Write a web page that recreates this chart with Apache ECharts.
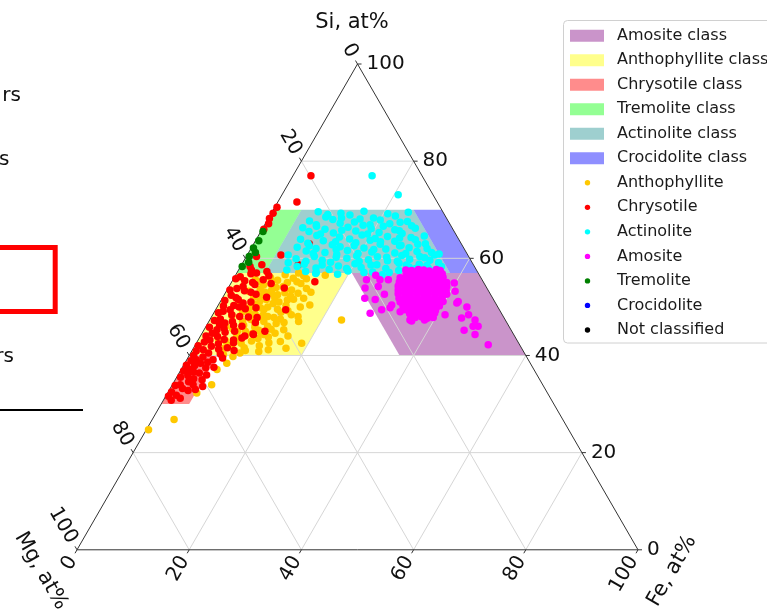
<!DOCTYPE html>
<html><head><meta charset="utf-8">
<script src="https://cdn.jsdelivr.net/npm/echarts@6/dist/echarts.min.js"></script>
<style>html,body{margin:0;padding:0;background:#fff}#c{width:767px;height:609px}</style>
</head><body><div id="c"></div>
<script>
// ---------- DATA (ternary percentages: [Si, Fe], Mg = 100 - Si - Fe) ----------
const tickValues = [0, 20, 40, 60, 80, 100];
const gridValues = [20, 40, 60, 80];
const axisTitles = { si: 'Si, at%', fe: 'Fe, at%', mg: 'Mg, at%' };

const classNames = ['Amosite class', 'Anthophyllite class', 'Chrysotile class', 'Tremolite class', 'Actinolite class', 'Crocidolite class'];
const amositeClass       = [[57, 43], [57, 20.5], [40, 37.5], [40, 60]];
const anthophylliteClass = [[57, 0], [57, 20], [40, 20], [40, 0]];
const chrysotileClass    = [[40, 0], [40, 5], [30, 5], [30, 0]];
const tremoliteClass     = [[70, 0], [70, 5], [57, 5], [57, 0]];
const actinoliteClass    = [[70, 5], [70, 25], [57, 38], [57, 5]];
const crocidoliteClass   = [[70, 25], [70, 30], [57, 43], [57, 38]];

const mineralNames = ['Anthophyllite', 'Chrysotile', 'Actinolite', 'Amosite', 'Tremolite', 'Crocidolite', 'Not classified'];

const anthophyllite = [
  [56.0,6.5],[55.5,8.0],[55.0,10.0],[54.5,6.0],[54.0,8.5],[53.5,11.5],[53.0,7.0],[52.5,9.5],[52.0,5.5],[51.5,8.0],
  [51.0,10.5],[50.5,6.5],[50.0,9.0],[49.5,11.0],[49.0,5.0],[48.5,7.5],[48.0,10.0],[47.5,12.5],[47.0,6.0],[46.5,8.5],
  [46.0,11.0],[45.5,5.0],[45.0,7.5],[44.5,9.0],[44.0,6.5],[43.5,10.5],[43.0,5.0],[42.5,8.0],[42.0,11.5],[41.5,5.5],
  [53.2,4.0],[50.8,3.8],[48.2,3.5],[55.6,4.0],[56.6,8.8],[54.8,12.5],[52.2,12.0],[49.2,13.0],[46.8,13.5],[44.6,13.0],
  [51.8,14.5],[47.0,16.0],[50.2,4.5],[46.0,3.5],[43.4,3.5],[41.0,9.5],[40.2,6.0],[53.8,14.0],[55.8,13.0],[57.0,11.0],
  [52.8,8.2],[49.8,7.8],[47.8,9.0],[45.2,9.8],[51.4,11.8],
  [55.2,5.2],[54.6,7.3],[54.2,9.7],[53.7,5.8],[53.3,8.0],[52.9,10.6],[52.3,6.8],[51.9,9.3],[51.6,12.8],[51.2,7.0],
  [50.7,9.6],[50.3,12.1],[49.9,5.9],[49.4,8.6],[48.9,11.9],[48.7,6.4],[48.3,9.0],[47.8,11.2],[47.4,7.3],[47.0,9.8],
  [46.6,12.2],[46.2,6.6],[45.8,8.8],[45.4,11.9],[45.0,6.1],[44.8,10.4],[44.2,8.0],[43.8,12.2],[43.6,6.7],[43.0,9.6],
  [42.6,12.9],[42.2,6.5],[41.6,9.0],[41.2,13.5],[50.0,14.8],[53.0,15.2],[48.4,14.0],[44.0,15.6],[55.2,11.6],[56.4,12.2],
  [55.9,10.6],[52.8,13.0],[48.0,15.4],[47.3,23.5],[56.5,16.0],[42.5,18.8],[42.9,14.8],[44.3,11.1],[45.3,14.2],[50.4,16.3],
  [26.8,3.9],[24.7,0.4],[39.8,7.9],[38.4,7.5],[32.3,5.2],[40.5,8.8],[37.1,6.4],[34.0,7.0],[40.8,12.0],[41.5,16.5]
];
const chrysotile = [
  [77.0,3.2],[71.6,3.4],[63.0,9.9],[60.7,6.0],[58.7,10.1],[55.2,14.8],[53.9,10.0],[49.4,12.5],[44.4,9.2],
  [70.5,0.4],[69.3,0.3],[68.2,0.2],[67.1,0.6],[66.0,0.3],
  [60.4,1.8],[58.7,3.6],[57.3,5.2],[57.6,2.3],
  [58.3,1.7],[57.0,3.5],[55.6,5.4],[54.2,2.5],[51.5,3.0],[49.4,2.6],[48.0,5.0],[46.7,3.0],[45.3,2.3],[43.2,6.3],
  [43.6,7.6],[44.3,9.3],[43.2,2.1],[41.2,1.9],[39.1,4.7],[39.1,1.7],[37.1,1.6],[36.0,5.1],[34.0,1.4],[34.0,3.7],[53.5,0.5],
  [56.2,1.0],[55.0,3.8],[53.0,4.5],[52.4,1.3],[51.0,5.5],[50.2,1.0],[50.0,3.9],[48.8,0.8],[47.5,1.8],[47.0,4.2],
  [46.0,6.4],[45.8,0.7],[44.8,4.0],[44.0,1.0],[42.4,4.0],[42.0,0.6],[41.6,6.0],[40.5,3.2],[40.0,0.8],[38.4,2.8],
  [38.0,0.5],[37.5,4.2],[36.6,2.5],[35.5,0.7],[35.2,3.2],[33.2,2.2],[32.5,0.6],[31.8,1.8],[33.0,4.6],[52.0,7.8],
  [49.8,7.0],[46.8,8.4],[45.0,11.0],[54.8,7.2],[56.4,6.0],
  [56.8,2.6],[55.8,0.4],[55.4,2.2],[54.6,4.4],[53.8,1.6],[53.3,3.2],[52.6,5.6],[51.9,2.4],[51.3,0.7],[50.8,4.2],
  [50.3,2.8],[49.6,5.2],[49.1,1.5],[48.4,3.4],[47.9,6.6],[47.2,0.9],[46.4,2.2],[46.2,4.8],[45.6,3.4],[45.0,5.6],
  [44.6,1.8],[43.9,3.1],[43.3,4.6],[42.8,1.3],[42.6,6.6],[41.9,3.0],[41.3,4.6],[40.9,0.8],[40.3,5.4],[39.7,2.6],
  [39.5,6.2],[38.9,0.9],[38.6,4.0],[37.9,2.0],[37.6,5.6],[36.8,0.6],[36.4,3.6],[35.9,1.8],[35.0,4.8],[34.6,2.6],
  [33.8,0.6],[33.6,5.6],[32.8,3.4],[31.6,0.5],[31.2,2.8],[30.8,1.4],[44.0,7.9],[41.0,7.5],[47.8,8.2]
];
const actinolite = [
  [69.6,8.2],[69.3,12.4],[69.7,16.3],[69.2,20.8],[69.5,24.3],
  [68.5,10.1],[68.9,14.2],[68.3,18.7],[68.7,22.4],
  [67.7,7.6],[68.0,11.6],[67.5,15.7],[67.9,20.1],[67.6,25.1],
  [66.9,9.2],[67.2,13.3],[66.8,17.6],[67.1,22.2],[66.7,26.3],
  [66.3,7.1],[66.0,11.2],[66.4,15.1],[66.1,19.4],[65.9,23.7],[66.2,27.2],
  [65.5,8.6],[65.2,13.1],[65.6,16.9],[65.3,21.2],[65.1,25.4],
  [64.7,10.4],[64.4,14.6],[64.8,18.4],[64.5,23.1],[64.3,27.4],[64.6,29.6],
  [63.9,7.9],[63.6,12.1],[64.0,16.6],[63.7,20.4],[63.5,24.9],[63.8,28.4],
  [63.1,9.6],[62.8,14.1],[63.2,18.1],[62.9,22.6],[62.7,26.4],[63.0,30.6],
  [62.3,8.1],[62.0,11.6],[62.4,15.7],[62.1,20.1],[61.9,24.1],[62.2,28.1],[62.0,31.4],
  [61.5,10.1],[61.2,13.6],[61.6,17.4],[61.3,21.9],[61.1,26.1],[61.4,29.9],[61.2,32.6],
  [60.7,7.3],[60.4,12.1],[60.8,15.9],[60.5,19.6],[60.3,23.4],[60.6,27.6],[60.4,30.9],[60.7,33.4],
  [59.9,9.1],[59.6,13.9],[60.0,18.1],[59.7,22.1],[59.5,25.6],[59.8,29.4],[59.6,33.1],
  [59.1,8.1],[58.8,11.1],[59.2,15.6],[58.9,20.1],[58.7,24.1],[59.0,27.9],[58.8,31.6],[59.1,34.9],
  [58.3,10.1],[58.0,13.6],[58.4,17.4],[58.1,21.6],[57.9,26.1],[58.2,30.1],[58.0,33.6],[58.3,35.8],
  [57.6,8.6],[57.3,12.1],[57.7,16.1],[57.4,19.6],[57.2,24.1],[57.5,28.6],[57.3,32.1],[57.6,35.1],
  [56.9,14.1],[56.7,18.1],[56.6,26.1],[56.9,30.6],
  [69.0,10.2],[68.1,16.4],[67.4,23.9],[66.6,9.4],[66.6,21.3],[65.8,14.3],[65.0,19.3],[65.0,10.9],[64.2,25.4],[63.4,14.4],
  [63.4,22.4],[62.6,10.1],[62.6,18.1],[62.6,26.2],[61.8,22.0],[61.8,15.3],[61.0,11.6],[61.0,19.6],[61.0,28.1],[60.2,16.1],
  [60.2,25.1],[60.1,31.9],[59.4,11.1],[59.4,20.6],[59.4,27.4],[58.6,14.4],[58.6,23.1],[58.6,29.4],[57.9,19.1],[57.9,31.4],
  [57.1,14.1],[57.1,22.6],[57.1,27.1],[64.1,21.1],[65.7,24.6],[62.9,29.3],[60.9,34.1],[58.5,33.1],[57.2,34.3],[66.9,18.8],
  [68.3,13.0],[77.0,14.1],[73.1,20.7]
];
const amosite = [
  [57.6,29.8],[57.5,30.9],[57.7,32.0],[57.6,33.0],[57.4,34.1],[57.7,35.2],[57.5,36.0],
  [56.8,30.3],[56.9,31.4],[56.7,32.5],[56.8,33.5],[56.9,34.6],[56.7,35.7],[56.8,36.7],
  [56.0,29.6],[56.1,30.7],[55.9,31.8],[56.0,32.9],[56.1,34.0],[55.9,35.0],[56.0,36.1],[56.1,37.2],
  [55.1,29.9],[55.2,31.0],[55.0,32.0],[55.1,33.1],[55.2,34.2],[55.0,35.3],[55.1,36.3],[55.2,37.4],[55.0,38.4],
  [54.3,30.1],[54.4,31.2],[54.2,32.3],[54.3,33.4],[54.4,34.5],[54.2,35.5],[54.3,36.6],[54.4,37.7],[54.2,38.8],
  [53.5,30.5],[53.6,31.6],[53.4,32.7],[53.5,33.8],[53.6,34.8],[53.4,35.9],[53.5,37.0],[53.6,38.0],[53.4,39.1],
  [52.7,30.9],[52.8,32.0],[52.6,33.1],[52.7,34.2],[52.8,35.3],[52.6,36.3],[52.7,37.4],[52.8,38.5],[52.6,39.6],
  [51.8,31.5],[51.9,32.6],[51.7,33.7],[51.8,34.8],[51.9,35.9],[51.7,36.9],[51.8,38.0],[51.9,39.1],
  [51.0,32.1],[51.1,33.2],[50.9,34.3],[51.0,35.4],[51.1,36.5],[50.9,37.5],[51.0,38.6],[51.1,39.7],
  [50.2,33.0],[50.3,34.1],[50.1,35.2],[50.2,36.2],[50.3,37.3],[50.1,38.4],[50.2,39.5],
  [49.4,33.8],[49.5,34.9],[49.3,36.0],[49.4,37.1],[49.5,38.2],[49.3,39.3],
  [48.6,35.0],[48.7,36.1],[48.5,37.2],[48.6,38.3],[48.7,39.4],
  [47.8,36.4],[47.9,37.5],[47.7,38.6],[47.8,39.6],
  [55.6,23.8],[53.9,24.4],[51.8,25.4],[54.2,26.6],[48.7,27.9],[49.8,30.9],[49.0,33.1],[47.3,35.7],[55.6,27.7],[54.9,39.8],
  [53.2,40.8],[50.8,42.3],[48.4,41.4],[47.7,44.7],[48.4,45.6],[47.3,47.3],[46.0,47.6],[44.3,48.8],[42.2,52.2],[47.7,38.6],
  [51.5,27.4],[49.4,29.6],[50.4,30.9],[47.1,36.1],[47.3,38.3],[51.1,42.4],[46.0,48.5],[55.6,26.2],[56.5,25.0],[52.6,28.5],
  [45.2,46.4],[50.0,44.5]
];
const tremolite = [[65.5,0.4],[63.6,0.6],[62.1,0.4],[61.2,1.2],[60.4,0.5],[59.2,1.0],[58.3,0.3]];
const crocidolite = [];
const notClassified = [];

// ---------- STYLES ----------
const FONT = 'DejaVu Sans';
const classColors = ['rgba(128,0,128,0.42)', 'rgba(255,255,0,0.45)', 'rgba(255,0,0,0.45)',
                     'rgba(0,255,0,0.42)', 'rgba(0,128,128,0.38)', 'rgba(0,0,255,0.44)'];
const mineralColors = ['#FFC800', '#FF0000', '#00FFFF', '#FF00FF', '#008000', '#0000FF', '#000000'];

const S3 = Math.sqrt(3) / 2;
function toXY(p) { return [p[1] + p[0] / 2, p[0] * S3]; }

const classPolys = [amositeClass, anthophylliteClass, chrysotileClass, tremoliteClass, actinoliteClass, crocidoliteClass];
const mineralData = [anthophyllite, chrysotile, actinolite, amosite, tremolite, crocidolite, notClassified];

const series = [];
classPolys.forEach((poly, i) => {
  series.push({
    type: 'custom', name: classNames[i], coordinateSystem: 'cartesian2d', silent: true, z: 1,
    data: [[0, 0]],
    renderItem: (p, api) => ({
      type: 'polygon',
      shape: { points: poly.map(v => api.coord(toXY(v))) },
      style: { fill: classColors[i], stroke: 'none' }
    })
  });
});

// grid lines
series.push({
  type: 'custom', coordinateSystem: 'cartesian2d', silent: true, z: 2,
  data: gridValues.map(v => [v, 0]),
  renderItem: (p, api) => {
    const k = api.value(0);
    const L = (a, b) => {
      const A = api.coord(toXY(a)), B = api.coord(toXY(b));
      return { type: 'line', shape: { x1: A[0], y1: A[1], x2: B[0], y2: B[1] }, style: { stroke: '#d6d6d6', lineWidth: 1 } };
    };
    return { type: 'group', children: [L([k, 0], [k, 100 - k]), L([0, k], [100 - k, k]), L([0, 100 - k], [100 - k, 0])] };
  }
});

// triangle frame
series.push({
  type: 'custom', coordinateSystem: 'cartesian2d', silent: true, z: 3,
  data: [[0, 0]],
  renderItem: (p, api) => ({
    type: 'polygon',
    shape: { points: [[0, 0], [0, 100], [100, 0]].map(v => api.coord(toXY(v))) },
    style: { fill: 'none', stroke: '#333', lineWidth: 1 }
  })
});

// ticks and tick labels
series.push({
  type: 'custom', coordinateSystem: 'cartesian2d', silent: true, z: 5,
  data: tickValues.map(v => [v, 0]),
  renderItem: (p, api) => {
    const k = api.value(0);
    const kids = [];
    const add = (P, dir, rot, align) => {
      kids.push({ type: 'line', shape: { x1: P[0], y1: P[1], x2: P[0] + 4 * dir[0], y2: P[1] + 4 * dir[1] }, style: { stroke: '#333', lineWidth: 1 } });
      kids.push({ type: 'text', x: P[0] + 9 * dir[0], y: P[1] + 9 * dir[1], rotation: rot,
        style: { text: String(k), fontSize: 20, fontFamily: FONT, fill: '#111', align: align, verticalAlign: 'middle' } });
    };
    add(api.coord(toXY([k, 100 - k])), [1, 0], 0, 'left');               // Si (right edge)
    add(api.coord(toXY([0, k])), [-0.5, S3], Math.PI / 3, 'right');         // Fe (bottom edge)
    add(api.coord(toXY([100 - k, 0])), [-0.5, -S3], -Math.PI / 3, 'right'); // Mg (left edge)
    return { type: 'group', children: kids };
  }
});

mineralData.forEach((d, i) => {
  series.push({
    type: 'scatter', name: mineralNames[i], z: 4,
    data: d.map(toXY), symbol: 'circle', symbolSize: 7.5,
    itemStyle: { color: mineralColors[i], opacity: 1 }, silent: true
  });
});

// legend (drawn as graphics)
const legendItems = [];
const rowY = i => 35.7 + 24.52 * i;
legendItems.push({ type: 'rect', shape: { x: 563.5, y: 20.5, width: 230, height: 322.5, r: 4 },
  style: { fill: 'rgba(255,255,255,0.8)', stroke: '#d0d0d0', lineWidth: 1 }, z: 10 });
classNames.forEach((n, i) => {
  legendItems.push({ type: 'rect', shape: { x: 570, y: rowY(i) - 6, width: 34, height: 12 }, style: { fill: classColors[i] }, z: 11 });
  legendItems.push({ type: 'text', x: 617, y: rowY(i), style: { text: n, fontSize: 16, fontFamily: FONT, fill: '#1a1a1a', align: 'left', verticalAlign: 'middle' }, z: 11 });
});
mineralNames.forEach((n, j) => {
  const i = j + classNames.length;
  legendItems.push({ type: 'circle', shape: { cx: 587.5, cy: rowY(i), r: 2.7 }, style: { fill: mineralColors[j] }, z: 11 });
  legendItems.push({ type: 'text', x: 617, y: rowY(i), style: { text: n, fontSize: 16, fontFamily: FONT, fill: '#1a1a1a', align: 'left', verticalAlign: 'middle' }, z: 11 });
});

// axis titles
const titles = [
  { type: 'text', x: 352, y: 23, style: { text: axisTitles.si, fontSize: 21, fontFamily: FONT, fill: '#111', align: 'center', verticalAlign: 'middle' } },
  { type: 'text', x: 41, y: 571, rotation: -Math.PI / 3, style: { text: axisTitles.mg, fontSize: 21, fontFamily: FONT, fill: '#111', align: 'center', verticalAlign: 'middle' } },
  { type: 'text', x: 672, y: 571, rotation: Math.PI / 3, style: { text: axisTitles.fe, fontSize: 21, fontFamily: FONT, fill: '#111', align: 'center', verticalAlign: 'middle' } }
];

// clipped fragments at the left edge
const fragments = [
  { type: 'text', x: 21, y: 96, style: { text: 'rs', fontSize: 20, fontFamily: FONT, fill: '#111', align: 'right', verticalAlign: 'middle' } },
  { type: 'text', x: 9.5, y: 160, style: { text: 's', fontSize: 20, fontFamily: FONT, fill: '#111', align: 'right', verticalAlign: 'middle' } },
  { type: 'text', x: 14, y: 357, style: { text: 'rs', fontSize: 20, fontFamily: FONT, fill: '#111', align: 'right', verticalAlign: 'middle' } },
  { type: 'rect', shape: { x: -10, y: 247.5, width: 65.2, height: 64 }, style: { fill: 'none', stroke: '#ff0000', lineWidth: 5 } },
  { type: 'line', shape: { x1: 0, y1: 410, x2: 83, y2: 410 }, style: { stroke: '#000', lineWidth: 2 } }
];

const chart = echarts.init(document.getElementById('c'), null, { renderer: 'canvas' });
chart.setOption({
  animation: false,
  backgroundColor: '#fff',
  grid: { left: 77, top: 64, width: 561, height: 485.8 },
  xAxis: { type: 'value', min: 0, max: 100, show: false },
  yAxis: { type: 'value', min: 0, max: 100 * S3, show: false },
  series: series,
  graphic: { elements: [].concat(legendItems, titles, fragments) }
});
</script></body></html>
